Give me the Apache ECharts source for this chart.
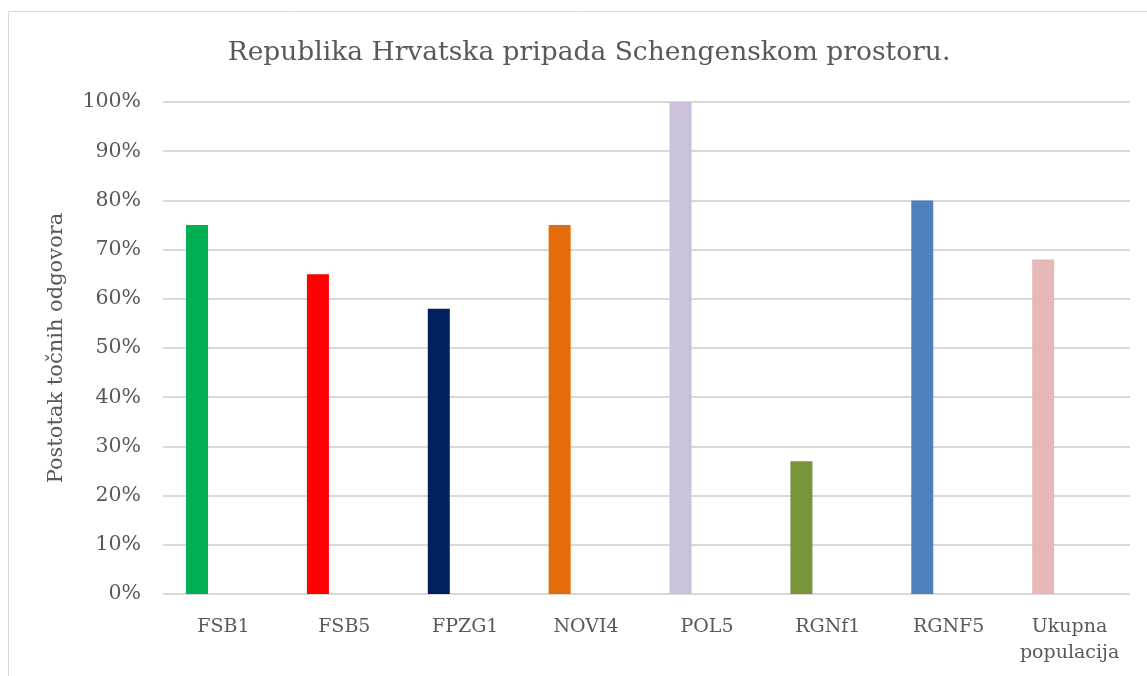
<!DOCTYPE html>
<html>
<head>
<meta charset="utf-8">
<script src="https://cdn.jsdelivr.net/npm/echarts@6/dist/echarts.min.js"></script>
<style>
  html, body { margin: 0; padding: 0; background: #fff; }
  #chart { width: 1147px; height: 676px; }
</style>
</head>
<body>
<div id="chart"></div>
<script>
// podaci s grafa
var categories = ['FSB1', 'FSB5', 'FPZG1', 'NOVI4', 'POL5', 'RGNf1', 'RGNF5', 'Ukupna\npopulacija']
var values = [75, 65, 58, 75, 100, 27, 80, 68]
var barColors = ['#00b050', '#ff0000', '#002060', '#e46c0a', '#ccc1da', '#77933c', '#4f81bd', '#e6b9b8']
var yTicks = [0, 10, 20, 30, 40, 50, 60, 70, 80, 90, 100]

var font = '"DejaVu Serif", serif'
var grey = '#595959'

var chart = echarts.init(document.getElementById('chart'))
chart.setOption({
  animation: false,
  textStyle: { fontFamily: font, color: grey },
  title: {
    text: 'Republika Hrvatska pripada Schengenskom prostoru.',
    left: 584,
    textAlign: 'center',
    top: 35,
    textStyle: { fontFamily: font, fontSize: 26.5, fontWeight: 'normal', color: grey }
  },
  graphic: [{
    type: 'rect',
    shape: { x: 8.5, y: 11.5, width: 1200, height: 700 },
    style: { fill: 'none', stroke: '#d9d9d9', lineWidth: 1 },
    silent: true
  }],
  grid: { left: 163, right: 17, top: 102, bottom: 82 },
  xAxis: {
    type: 'category',
    data: categories,
    axisLine: { show: false },
    axisTick: { show: false },
    axisLabel: { fontFamily: font, fontSize: 19, color: grey, margin: 20, interval: 0, lineHeight: 26 }
  },
  yAxis: {
    type: 'value',
    min: yTicks[0],
    max: yTicks[yTicks.length - 1],
    interval: 10,
    name: 'Postotak točnih odgovora',
    nameLocation: 'middle',
    nameGap: 96,
    nameTextStyle: { fontFamily: font, fontSize: 21, color: grey },
    axisLabel: { fontFamily: font, fontSize: 20.5, color: grey, margin: 22, formatter: '{value}%' },
    splitLine: { lineStyle: { color: '#d9d9d9', width: 2 } }
  },
  series: [{
    type: 'bar',
    data: values.map(function (v, i) {
      return { value: v, itemStyle: { color: barColors[i] } }
    }),
    barWidth: 22,
    barGap: '140%'
  }, {
    type: 'bar',
    data: values.map(function () { return null }),
    barWidth: 22
  }]
})
</script>
</body>
</html>
